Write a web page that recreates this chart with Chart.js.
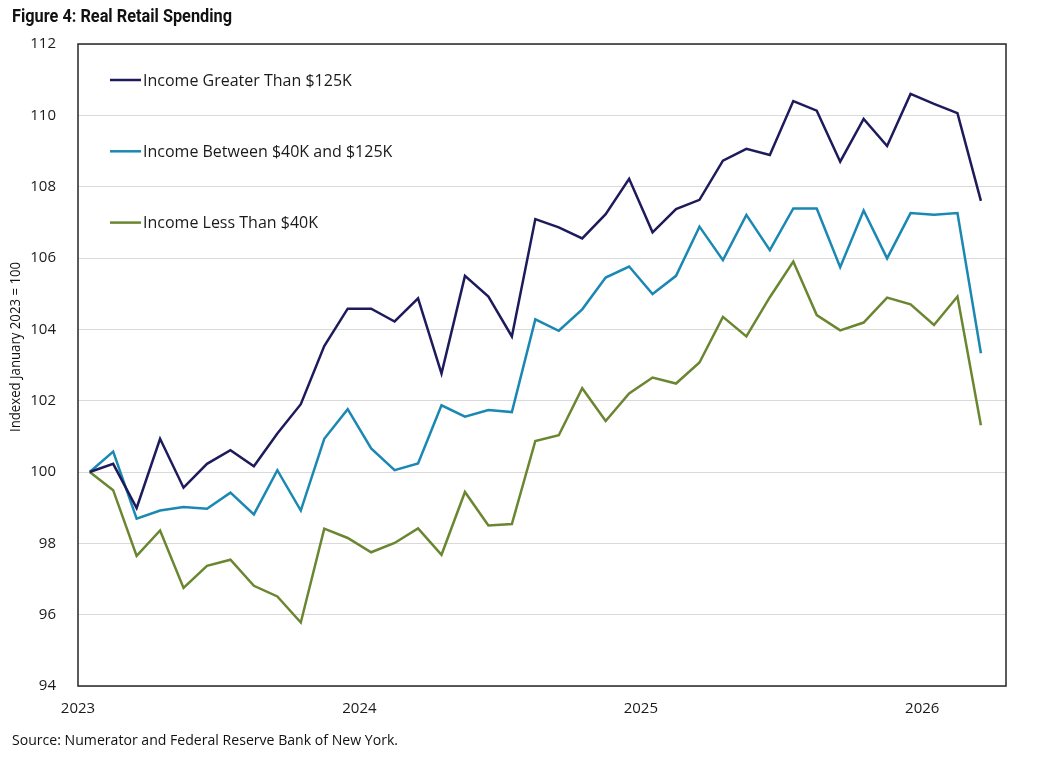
<!DOCTYPE html>
<html>
<head>
<meta charset="utf-8">
<script src="https://cdn.jsdelivr.net/npm/chart.js@4/dist/chart.umd.min.js"></script>
<style>
  html, body { margin: 0; padding: 0; background: #fff; }
  #wrap { width: 1044px; height: 758px; position: relative; }
</style>
</head>
<body>
<div id="wrap"><canvas id="lineChart"></canvas></div>
<script>
// monthly data, Jan 2023 .. Mar 2026 (index Jan 2023 = 100)
var months = ['2023-01','2023-02','2023-03','2023-04','2023-05','2023-06','2023-07','2023-08','2023-09','2023-10','2023-11','2023-12',
              '2024-01','2024-02','2024-03','2024-04','2024-05','2024-06','2024-07','2024-08','2024-09','2024-10','2024-11','2024-12',
              '2025-01','2025-02','2025-03','2025-04','2025-05','2025-06','2025-07','2025-08','2025-09','2025-10','2025-11','2025-12',
              '2026-01','2026-02','2026-03'];

var highIncome = [100.0, 100.23, 98.99, 100.93, 99.56, 100.23, 100.61, 100.16, 101.08, 101.9, 103.53, 104.58,
                  104.58, 104.22, 104.87, 102.76, 105.5, 104.92, 103.8, 107.09, 106.86, 106.55, 107.23, 108.22,
                  106.72, 107.37, 107.63, 108.73, 109.06, 108.89, 110.4, 110.13, 108.7, 109.9, 109.14, 110.6,
                  110.32, 110.06, 107.6];

var midIncome = [100.0, 100.57, 98.69, 98.92, 99.02, 98.97, 99.42, 98.81, 100.05, 98.92, 100.93, 101.76,
                 100.66, 100.05, 100.24, 101.87, 101.55, 101.74, 101.68, 104.28, 103.96, 104.56, 105.45, 105.76,
                 104.99, 105.5, 106.88, 105.94, 107.21, 106.22, 107.39, 107.39, 105.74, 107.33, 105.99, 107.26,
                 107.21, 107.26, 103.33];

var lowIncome = [100.0, 99.49, 97.65, 98.36, 96.75, 97.37, 97.54, 96.81, 96.51, 95.78, 98.41, 98.15,
                 97.75, 98.01, 98.42, 97.68, 99.44, 98.5, 98.54, 100.87, 101.03, 102.35, 101.43, 102.2,
                 102.65, 102.48, 103.07, 104.35, 103.8, 104.9, 105.9, 104.4, 103.97, 104.19, 104.89, 104.7,
                 104.12, 104.92, 101.31];

var seriesNames = ['Income Greater Than $125K', 'Income Between $40K and $125K', 'Income Less Than $40K'];
var seriesColors = ['#1e1b5c', '#1b88b3', '#6a8631'];

var yearLabels = ['2023', '2024', '2025', '2026'];
var yearStarts = [0, 12, 24, 36]; // months since Jan 2023
var yTicks = [94, 96, 98, 100, 102, 104, 106, 108, 110, 112];

var FONT = '"Open Sans", "DejaVu Sans", sans-serif';

// points sit mid-month on a month axis
function toPoints(arr) {
    return arr.map(function (v, i) { return { x: i + 0.5, y: v }; });
}

function fitText(ctx, text, x, y, width) {
    var w = ctx.measureText(text).width;
    ctx.save();
    ctx.translate(x, y);
    ctx.scale(width / w, 1);
    ctx.fillText(text, 0, 0);
    ctx.restore();
}

// frame, legend, titles
var decor = {
    id: 'decor',
    afterDatasetsDraw: function (chart) {
        var ctx = chart.ctx;
        var a = chart.chartArea;
        ctx.save();
        ctx.strokeStyle = '#262626';
        ctx.lineWidth = 1.5;
        ctx.strokeRect(a.left, a.top, a.right - a.left, a.bottom - a.top);

        ctx.font = '16px ' + FONT;
        ctx.textBaseline = 'middle';
        ctx.fillStyle = '#1a1a1a';
        chart.data.datasets.forEach(function (ds, i) {
            var y = a.top + 36 + i * 71.3;
            ctx.strokeStyle = ds.borderColor;
            ctx.lineWidth = 2.5;
            ctx.beginPath();
            ctx.moveTo(a.left + 32, y);
            ctx.lineTo(a.left + 63, y);
            ctx.stroke();
            ctx.fillText(ds.label, a.left + 65, y + 1);
        });
        ctx.restore();
    },
    afterDraw: function (chart) {
        var ctx = chart.ctx;
        ctx.save();
        ctx.fillStyle = '#111';
        ctx.textBaseline = 'middle';
        ctx.font = 'bold 19px "Liberation Sans Narrow", "Roboto", sans-serif';
        fitText(ctx, 'Figure 4: Real Retail Spending', 12, 17, 220);

        ctx.font = '15px ' + FONT;
        fitText(ctx, 'Source: Numerator and Federal Reserve Bank of New York.', 12, 741, 386);

        ctx.font = '14px ' + FONT;
        ctx.translate(16, 347);
        ctx.rotate(-Math.PI / 2);
        fitText(ctx, 'Indexed January 2023 = 100', -85, 0, 170);
        ctx.restore();
    }
};
</script>
<script>
var ctxL = document.getElementById('lineChart').getContext('2d');
var incomeData = [highIncome, midIncome, lowIncome];
var myLineChart = new Chart(ctxL, {
    type: 'line',
    data: {
        datasets: incomeData.map(function (arr, i) {
            return {
                label: seriesNames[i],
                data: toPoints(arr),
                borderColor: seriesColors[i],
                backgroundColor: seriesColors[i],
                borderWidth: 2.5,
                pointRadius: 0,
                tension: 0,
                fill: false
            };
        })
    },
    options: {
        responsive: true,
        maintainAspectRatio: false,
        animation: false,
        layout: { padding: { top: 44, right: 38, bottom: 0, left: 0 } },
        plugins: {
            legend: { display: false },
            tooltip: { enabled: false }
        },
        scales: {
            x: {
                type: 'linear',
                min: 0,
                max: 39.57,
                grid: { display: false, drawTicks: false },
                border: { display: false },
                afterBuildTicks: function (scale) {
                    scale.ticks = yearStarts.map(function (v) { return { value: v }; });
                },
                afterFit: function (scale) { scale.height = 72; },
                ticks: {
                    autoSkip: false,
                    maxRotation: 0,
                    padding: 14,
                    color: '#1a1a1a',
                    font: { size: 15, family: FONT },
                    callback: function (v) {
                        var k = yearStarts.indexOf(v);
                        return k >= 0 ? yearLabels[k] : '';
                    }
                }
            },
            y: {
                min: yTicks[0],
                max: yTicks[yTicks.length - 1],
                grid: { color: '#d9d9d9', lineWidth: 1, drawTicks: false },
                border: { display: false },
                afterFit: function (scale) { scale.width = 78; },
                ticks: {
                    stepSize: 2,
                    padding: 22,
                    color: '#1a1a1a',
                    font: { size: 15, family: FONT }
                }
            }
        }
    },
    plugins: [decor]
});
</script>
</body>
</html>
